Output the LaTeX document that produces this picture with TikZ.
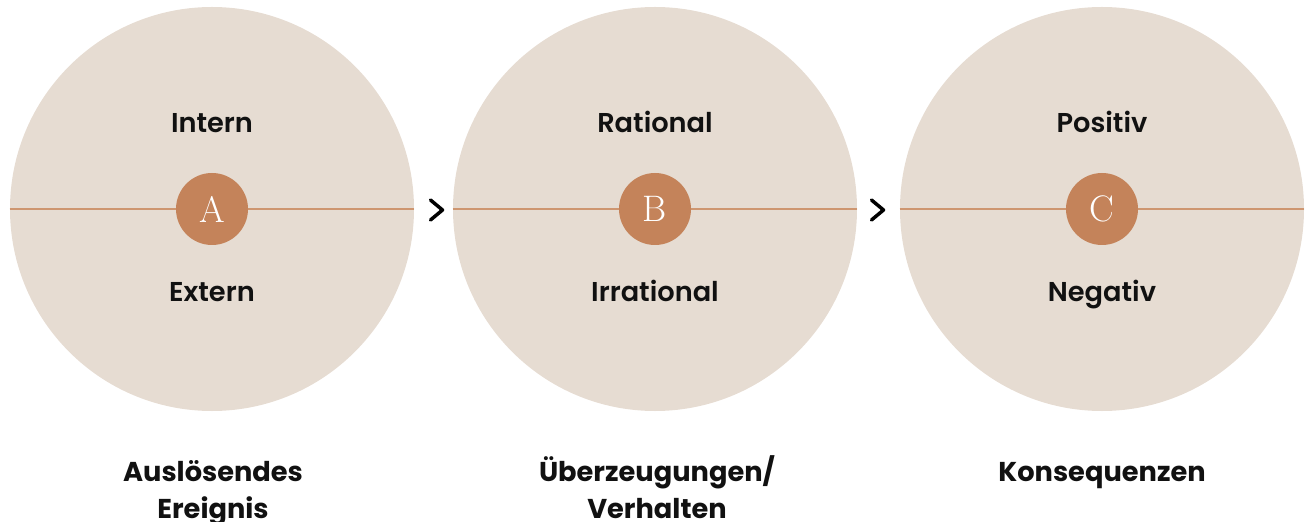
\documentclass[tikz,border=0pt]{standalone}
\usepackage{fontspec}
\setmainfont{Poppins}
\newfontfamily\medfont{Poppins SemiBold}
\newfontfamily\letterfont{Latin Modern Roman}
\usetikzlibrary{calc}

\definecolor{discbeige}{HTML}{E6DCD2}
\definecolor{discbrown}{HTML}{C4835A}
\definecolor{lineorange}{HTML}{CE9670}
\definecolor{textblack}{HTML}{111111}

\tikzset{
    bigdisc/.style={circle, fill=discbeige, minimum size=8.08cm, inner sep=0pt},
    letterdisc/.style={circle, fill=discbrown, minimum size=1.44cm, inner sep=0pt,
        text=white, font=\letterfont\fontsize{21}{21}\selectfont},
    innerlabel/.style={font=\medfont\fontsize{15.5}{15.5}\selectfont, text=textblack,
        text height=0.75em, text depth=0.25em, inner sep=0pt},
    caption/.style={font=\bfseries\fontsize{15.5}{21}\selectfont, text=textblack,
        align=center, anchor=north, inner sep=0pt},
    midline/.style={draw=lineorange, line width=0.5mm},
    chevron/.style={draw=black, line width=0.7mm, line cap=round, line join=round}
}

\begin{document}
\begin{tikzpicture}[x=0.2mm, y=-0.2mm]
    % fix the page to the reference size
    \useasboundingbox (0,0) rectangle (1306,522);

    % the three big discs
    \node[bigdisc] (circA) at (212,209) {};
    \node[bigdisc] (circB) at (655,209) {};
    \node[bigdisc] (circC) at (1102,209) {};

    % horizontal lines through the discs
    \draw[midline] (circA.west) -- (circA.east);
    \draw[midline] (circB.west) -- (circB.east);
    \draw[midline] (circC.west) -- (circC.east);

    % letter discs in the middle
    \node[letterdisc] (letA) at (circA.center) {A};
    \node[letterdisc] (letB) at (circB.center) {B};
    \node[letterdisc] (letC) at (circC.center) {C};

    % upper and lower labels
    \node[innerlabel] (intern) at (212,128) {Intern};
    \node[innerlabel] (extern) at (212,297) {Extern};
    \node[innerlabel] (rational) at (655,128) {Rational};
    \node[innerlabel] (irrational) at (655,297) {Irrational};
    \node[innerlabel] (positiv) at (1102,128) {Positiv};
    \node[innerlabel] (negativ) at (1102,297) {Negativ};

    % chevrons between the discs
    \coordinate (chevAB) at ($(circA.east)!0.5!(circB.west)+(3,1)$);
    \coordinate (chevBC) at ($(circB.east)!0.5!(circC.west)+(-1,1)$);
    \draw[chevron] ([shift={(-6,-10)}]chevAB) -- ++(12,10) -- ++(-12,10);
    \draw[chevron] ([shift={(-6,-10)}]chevBC) -- ++(12,10) -- ++(-12,10);

    % captions below
    \node[caption] (capA) at (213,455) {\strut Auslösendes\\Ereignis};
    \node[caption] (capB) at (657,455) {\strut Überzeugungen/\\Verhalten};
    \node[caption] (capC) at (1102,455) {\strut Konsequenzen};
\end{tikzpicture}
\end{document}
